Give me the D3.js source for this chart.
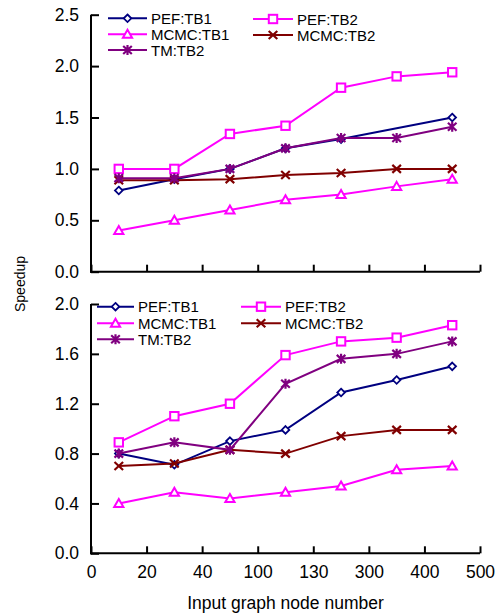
<!DOCTYPE html>
<html><head><meta charset="utf-8">
<script src="https://cdn.jsdelivr.net/npm/d3@7"></script>
<style>body{margin:0;background:#fff}svg{display:block;font-family:"Liberation Sans",Arial,sans-serif}</style>
</head><body>
<svg id="c" width="501" height="614"></svg>
<script>
const xTickLabels = ["0","20","40","100","130","300","400","500"];
const seriesNames = ["PEF:TB1","PEF:TB2","MCMC:TB1","MCMC:TB2","TM:TB2"];
const seriesColors = ["#000080","#FF00FF","#FF00FF","#800000","#800080"];
const seriesMarkers = ["diamond","square","triangle","x","star"];
// top panel values (7 points per series), null = no point
const topPEF1  = [0.79, 0.90, 1.00, 1.20, 1.29, null, 1.50];
const topPEF2  = [1.00, 1.00, 1.34, 1.42, 1.79, 1.90, 1.94];
const topMCMC1 = [0.40, 0.50, 0.60, 0.70, 0.75, 0.83, 0.90];
const topMCMC2 = [0.89, 0.89, 0.90, 0.94, 0.96, 1.00, 1.00];
const topTM2   = [0.91, 0.91, 1.00, 1.20, 1.30, 1.30, 1.41];
// bottom panel values
const botPEF1  = [0.80, 0.71, 0.90, 0.99, 1.29, 1.39, 1.50];
const botPEF2  = [0.89, 1.10, 1.20, 1.59, 1.70, 1.73, 1.83];
const botMCMC1 = [0.40, 0.49, 0.44, 0.49, 0.54, 0.67, 0.70];
const botMCMC2 = [0.70, 0.72, 0.83, 0.80, 0.94, 0.99, 0.99];
const botTM2   = [0.80, 0.89, 0.83, 1.36, 1.56, 1.60, 1.70];
const topTicks = [0, 0.5, 1.0, 1.5, 2.0, 2.5];
const botTicks = [0, 0.4, 0.8, 1.2, 1.6, 2.0];

const svg = d3.select("#c");
const x = d3.scaleLinear().domain([0, xTickLabels.length - 1]).range([91, 480]);

function marker(g, type, color, cx, cy) {
  const s = g.append("g").attr("transform", `translate(${cx},${cy})`);
  if (type === "diamond") {
    s.append("path").attr("d", "M0,-3.8L3.8,0L0,3.8L-3.8,0Z").attr("fill", "#fff").attr("stroke", color).attr("stroke-width", 1.8);
  } else if (type === "square") {
    s.append("rect").attr("x", -4.2).attr("y", -4.2).attr("width", 8.4).attr("height", 8.4).attr("fill", "#fff").attr("stroke", color).attr("stroke-width", 2);
  } else if (type === "triangle") {
    s.append("path").attr("d", "M0,-4.5L4.6,3.5L-4.6,3.5Z").attr("fill", "#fff").attr("stroke", color).attr("stroke-width", 2);
  } else if (type === "x") {
    s.append("path").attr("d", "M-4.3,-4L4.3,4M-4.3,4L4.3,-4").attr("stroke", color).attr("stroke-width", 2.2);
  } else if (type === "star") {
    s.append("path").attr("d", "M-4.3,-4L4.3,4M-4.3,4L4.3,-4M0,-5L0,5").attr("stroke", color).attr("stroke-width", 2.2);
  }
}

function panel(data, yDomain, yRange, ticks, showLabels, legend) {
  const y = d3.scaleLinear().domain(yDomain).range(yRange);
  const g = svg.append("g");
  const ya = g.append("g").attr("transform", "translate(91,0)")
    .call(d3.axisLeft(y).tickValues(ticks).tickFormat(d3.format(".1f")).tickSizeInner(-8).tickSizeOuter(0).tickPadding(12));
  const xa = g.append("g").attr("transform", `translate(0,${yRange[0]})`)
    .call(d3.axisBottom(x).tickValues(d3.range(xTickLabels.length))
      .tickFormat(i => showLabels ? xTickLabels[i] : "").tickSizeInner(-7).tickSizeOuter(0).tickPadding(12));
  [ya, xa].forEach(a => {
    a.select(".domain").attr("stroke", "#000").attr("stroke-width", 2);
    a.selectAll(".tick line").attr("stroke", "#000").attr("stroke-width", 2);
    a.selectAll(".tick text").attr("font-size", 17.5).attr("fill", "#000").attr("font-family", '"Liberation Sans",Arial,sans-serif');
  });
  ya.select(".domain").attr("d", `M0,${yRange[0] + 1}V${yRange[1]}`);
  xa.select(".domain").attr("d", `M${x.range()[0] - 1},0H${x.range()[1]}`);
  const line = d3.line().x(d => x(d.i + 0.5)).y(d => y(d.v));
  data.forEach((vals, k) => {
    const pts = vals.map((v, i) => ({i, v})).filter(d => d.v !== null);
    g.append("path").attr("d", line(pts)).attr("fill", "none").attr("stroke", seriesColors[k]).attr("stroke-width", 2);
    pts.forEach(p => marker(g, seriesMarkers[k], seriesColors[k], x(p.i + 0.5), y(p.v)));
  });
  legend.forEach(L => {
    const c = L.k;
    g.append("line").attr("x1", L.x1).attr("x2", L.x2).attr("y1", L.y).attr("y2", L.y).attr("stroke", seriesColors[c]).attr("stroke-width", 2);
    marker(g, seriesMarkers[c], seriesColors[c], (L.x1 + L.x2) / 2, L.y);
    g.append("text").attr("x", L.x2 + 4).attr("y", L.y + 5.5).attr("font-size", 15).text(seriesNames[c]);
  });
}

panel([topPEF1, topPEF2, topMCMC1, topMCMC2, topTM2], [0, 2.5], [271.7, 14.7], topTicks, false, [
  {k:0, x1:108, x2:147, y:18.3}, {k:2, x1:108, x2:147, y:34.3}, {k:4, x1:108, x2:147, y:50},
  {k:1, x1:253, x2:293, y:19}, {k:3, x1:253, x2:293, y:35}
]);
panel([botPEF1, botPEF2, botMCMC1, botMCMC2, botTM2], [0, 2.0], [553.3, 304], botTicks, true, [
  {k:0, x1:97, x2:134, y:306.7}, {k:2, x1:97, x2:134, y:323.3}, {k:4, x1:97, x2:134, y:339.3},
  {k:1, x1:241, x2:281, y:306.7}, {k:3, x1:241, x2:281, y:323.3}
]);

svg.append("text").attr("x", 285.5).attr("y", 609).attr("text-anchor", "middle").attr("font-size", 17.5).text("Input graph node number");
svg.append("text").attr("transform", "translate(25,284) rotate(-90)").attr("text-anchor", "middle").attr("font-size", 14).text("Speedup");
</script>
</body></html>
